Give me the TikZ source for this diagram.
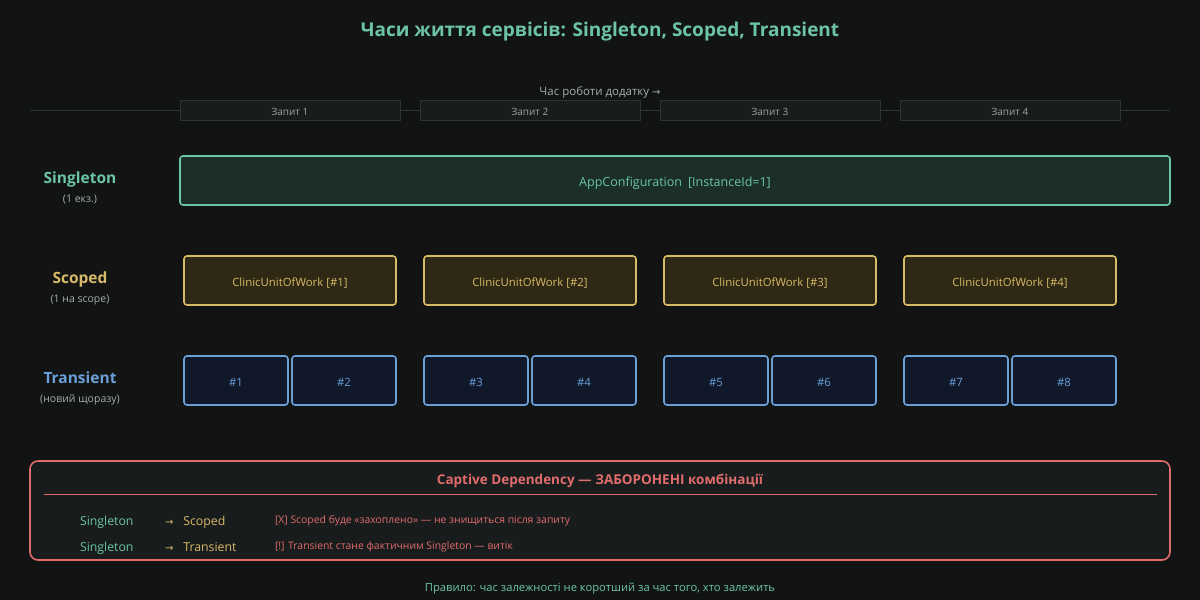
\documentclass[tikz,border=0pt]{standalone}
\usepackage{fontspec}
\setmainfont{Open Sans}
\newfontfamily\symf{DejaVu Sans}
\begin{document}
\begin{tikzpicture}[x=1pt,y=-1pt,
  every node/.style={inner sep=0pt,outer sep=0pt,text depth=0pt},
  reqbox/.style={draw=reqline,fill=reqfill,line width=1pt,minimum width=220pt,minimum height=20pt,text=reqtext,font=\fontsize{10}{12}\selectfont,text height=9.1pt},
  singbox/.style={draw=teal1,fill=singfill,line width=1.6pt,rounded corners=3pt,minimum width=990pt,minimum height=49pt,text=teal1,font=\fontsize{12.5}{14}\selectfont,text height=11.9pt},
  scopebox/.style={draw=gold1,fill=scopefill,line width=1.6pt,rounded corners=3pt,minimum width=212pt,minimum height=49pt,text=gold1,font=\fontsize{11.4}{13}\selectfont,text height=11.1pt},
  transbox/.style={draw=blue1,fill=transfill,line width=1.6pt,rounded corners=3pt,minimum width=104pt,minimum height=49pt,text=blue1,font=\fontsize{11.4}{13}\selectfont,text height=11.1pt},
  rowtitle/.style={font=\bfseries\fontsize{15.5}{17}\selectfont,text height=12.1pt},
  rowsub/.style={text=subgray,font=\fontsize{10.5}{12}\selectfont,text height=8.5pt},
  redtxt/.style={text=red1,anchor=west,font=\fontsize{10.4}{11}\selectfont,text height=8.3pt},
  pairtxt/.style={anchor=west,font=\fontsize{12.3}{14}\selectfont,text height=9.8pt},
]
\definecolor{bg}{HTML}{121414}
\definecolor{teal1}{HTML}{6CC4A4}
\definecolor{singfill}{HTML}{1B2E28}
\definecolor{gold1}{HTML}{D9BA68}
\definecolor{scopefill}{HTML}{2E2814}
\definecolor{blue1}{HTML}{6A9FD8}
\definecolor{transfill}{HTML}{10182A}
\definecolor{red1}{HTML}{E06C6C}
\definecolor{boxfill}{HTML}{181C1C}
\definecolor{reqfill}{HTML}{181C1C}
\definecolor{reqline}{HTML}{2E3432}
\definecolor{reqtext}{HTML}{A0A4A4}
\definecolor{subgray}{HTML}{A8ACAC}
\fill[bg] (0,0) rectangle (1200,600);
\useasboundingbox (0,0) rectangle (1200,600);

\node[text=teal1,font=\bfseries\fontsize{19}{22}\selectfont,text height=14.6pt] (title) at (600,29) {Часи життя сервісів: Singleton, Scoped, Transient};
\node[text=subgray,font=\fontsize{11.5}{13}\selectfont,text height=9.2pt] (axis) at (600,91) {Час роботи додатку {\symf\fontsize{10}{12}\selectfont →}};

\coordinate (tl) at (30,110.5);
\coordinate (tr) at (1170,110.5);
\draw[reqline,line width=1.6pt] (tl) -- (tr);
\node[reqbox] (r1) at (290,110.5) {Запит 1};
\node[reqbox] (r2) at (530,110.5) {Запит 2};
\node[reqbox] (r3) at (770,110.5) {Запит 3};
\node[reqbox] (r4) at (1010,110.5) {Запит 4};

\node[rowtitle,text=teal1] (lsing) at (80,177) {Singleton};
\node[rowsub] (lsings) at (80,198) {(1 екз.)};
\node[rowtitle,text=gold1] (lscop) at (80,277) {Scoped};
\node[rowsub] (lscops) at (80,298) {(1 на scope)};
\node[rowtitle,text=blue1] (ltran) at (80,377) {Transient};
\node[rowsub] (ltrans) at (80,398) {(новий щоразу)};

\node[singbox] (app) at (675,180.5) {AppConfiguration\hspace{6pt}[InstanceId=1]};

\node[scopebox] (s1) at (290,280.5) {ClinicUnitOfWork [\#1]};
\node[scopebox] (s2) at (530,280.5) {ClinicUnitOfWork [\#2]};
\node[scopebox] (s3) at (770,280.5) {ClinicUnitOfWork [\#3]};
\node[scopebox] (s4) at (1010,280.5) {ClinicUnitOfWork [\#4]};

\node[transbox] (t1) at (236,380.5) {\#1};
\node[transbox] (t2) at (344,380.5) {\#2};
\node[transbox] (t3) at (476,380.5) {\#3};
\node[transbox] (t4) at (584,380.5) {\#4};
\node[transbox] (t5) at (716,380.5) {\#5};
\node[transbox] (t6) at (824,380.5) {\#6};
\node[transbox] (t7) at (956,380.5) {\#7};
\node[transbox] (t8) at (1064,380.5) {\#8};

\draw[red1,fill=boxfill,line width=1.6pt,rounded corners=8pt] (30,461) rectangle (1170,560);
\node[text=red1,font=\bfseries\fontsize{13.5}{15}\selectfont,text height=10.6pt] (ctitle) at (600,479) {Captive Dependency — ЗАБОРОНЕНІ комбінації};
\coordinate (hl) at (44,494);
\coordinate (hr) at (1157,494);
\draw[red1,line width=1pt] (hl) -- (hr);

\node[pairtxt,text=teal1] (a1) at (80,521) {Singleton};
\node[pairtxt,text=gold1] (b1) at (165,521) {{\symf\fontsize{10}{12}\selectfont →}\hspace{10pt}Scoped};
\node[redtxt] (c1) at (275,519) {[X] Scoped буде «захоплено» — не знищиться після запиту};
\node[pairtxt,text=teal1] (a2) at (80,547) {Singleton};
\node[pairtxt,text=gold1] (b2) at (165,547) {{\symf\fontsize{10}{12}\selectfont →}\hspace{10pt}Transient};
\node[redtxt] (c2) at (275,545) {[!] Transient стане фактичним Singleton — витік};

\node[text=teal1,font=\fontsize{11.2}{13}\selectfont,text height=9pt] (rule) at (600,587) {Правило: час залежності не коротший за час того, хто залежить};
\end{tikzpicture}
\end{document}
